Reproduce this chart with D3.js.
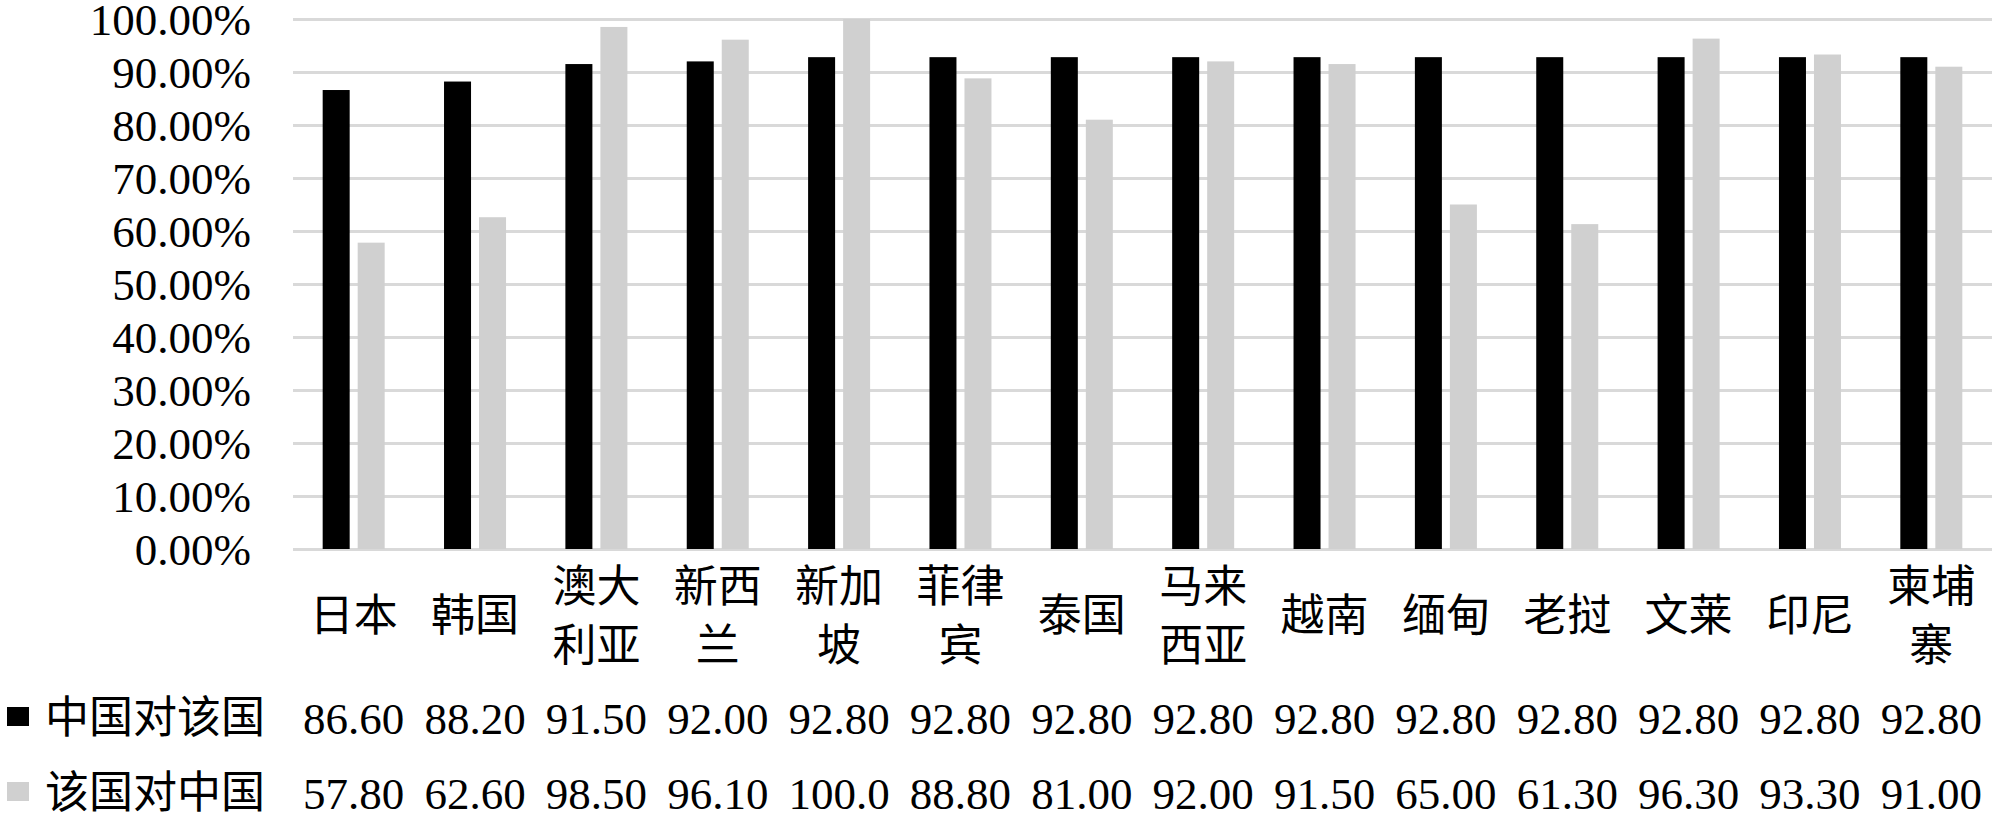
<!DOCTYPE html>
<html lang="en">
<head>
<meta charset="UTF-8">
<title>中国与周边国家</title>
<style>
  body { margin: 0; background: #fff; }
  .grid line { stroke: #d9d9d9; stroke-width: 3px; }
  .grid path { display: none; }
</style>
</head>
<body>
<svg width="1999" height="817"></svg>
<script src="https://cdn.jsdelivr.net/npm/d3@7/dist/d3.min.js"></script>
<script>

var categories = ["日本", "韩国", "澳大利亚", "新西兰", "新加坡", "菲律宾", "泰国", "马来西亚", "越南", "缅甸", "老挝", "文莱", "印尼", "柬埔寨"];
var seriesNames = ["中国对该国", "该国对中国"];
var chinaToCountry = [86.6, 88.2, 91.5, 92.0, 92.8, 92.8, 92.8, 92.8, 92.8, 92.8, 92.8, 92.8, 92.8, 92.8];
var countryToChina = [57.8, 62.6, 98.5, 96.1, 100.0, 88.8, 81.0, 92.0, 91.5, 65.0, 61.3, 96.3, 93.3, 91.0];
var yTicks = [0, 10, 20, 30, 40, 50, 60, 70, 80, 90, 100];
var colors = ["#000000", "#d0d0d0"];

var series = [chinaToCountry, countryToChina];

var latin = "Liberation Serif",
    cjk = "Noto Sans CJK SC";

var svg = d3.select("svg"),
    plot = {left: 293, right: 1992, top: 19, bottom: 549};

var x0 = d3.scaleBand()
    .domain(d3.range(categories.length))
    .range([plot.left, plot.right])
    .paddingInner(0.489)
    .paddingOuter(0.2445);

var x1 = d3.scaleBand()
    .domain([0, 1])
    .range([0, x0.bandwidth()])
    .paddingInner(0.2286);

var y = d3.scaleLinear()
    .domain([0, 100])
    .range([plot.bottom, plot.top]);

// gridlines
svg.append("g")
    .attr("class", "grid")
    .attr("transform", "translate(" + plot.left + ",0)")
    .call(d3.axisLeft(y).tickValues(yTicks).tickSize(-(plot.right - plot.left)).tickFormat(""));

// y tick labels
svg.append("g").selectAll("text")
  .data(yTicks)
  .enter().append("text")
    .attr("x", 251)
    .attr("y", function(d) { return y(d); })
    .attr("dy", "0.35em")
    .attr("text-anchor", "end")
    .style("font-family", latin)
    .style("font-size", "45px")
    .text(function(d) { return d3.format(".2f")(d) + "%"; });

// bars
svg.append("g").selectAll("g")
  .data(series)
  .enter().append("g")
    .attr("fill", function(d, i) { return colors[i]; })
    .each(function(vals, s) {
      d3.select(this).selectAll("rect")
        .data(vals)
        .enter().append("rect")
          .attr("x", function(d, i) { return x0(i) + x1(s); })
          .attr("y", function(d) { return y(d); })
          .attr("width", x1.bandwidth())
          .attr("height", function(d) { return y(0) - y(d); });
    });

// category labels, wrapped two characters per line
var labelMid = 616, lineGap = 59;
svg.append("g").selectAll("text")
  .data(categories)
  .enter().append("text")
    .attr("text-anchor", "middle")
    .style("font-family", cjk)
    .style("font-size", "44px")
    .each(function(name, i) {
      var lines = name.match(/.{1,2}/g);
      var t = d3.select(this);
      lines.forEach(function(line, k) {
        t.append("tspan")
          .attr("x", x0(i) + x0.bandwidth() / 2)
          .attr("y", labelMid + (k - (lines.length - 1) / 2) * lineGap)
          .attr("dy", "0.35em")
          .text(line);
      });
    });

// data table under the chart
var rowY = [718, 793];
var table = svg.append("g");

series.forEach(function(vals, s) {
  table.append("rect")
    .attr("x", 7)
    .attr("y", rowY[s] - 11)
    .attr("width", 22)
    .attr("height", 19)
    .attr("fill", colors[s]);

  table.append("text")
    .attr("x", 45)
    .attr("y", rowY[s])
    .attr("dy", "0.35em")
    .style("font-family", cjk)
    .style("font-size", "44px")
    .text(seriesNames[s]);

  table.selectAll(".v" + s)
    .data(vals)
    .enter().append("text")
      .attr("class", "v" + s)
      .attr("x", function(d, i) { return x0(i) + x0.bandwidth() / 2; })
      .attr("y", rowY[s])
      .attr("dy", "0.35em")
      .attr("text-anchor", "middle")
      .style("font-family", latin)
      .style("font-size", "45px")
      // cell is too narrow for 6 characters, so it gets clipped like "100.0"
      .text(function(d) { return d3.format(".2f")(d).slice(0, 5); });
});

</script>
</body>
</html>
